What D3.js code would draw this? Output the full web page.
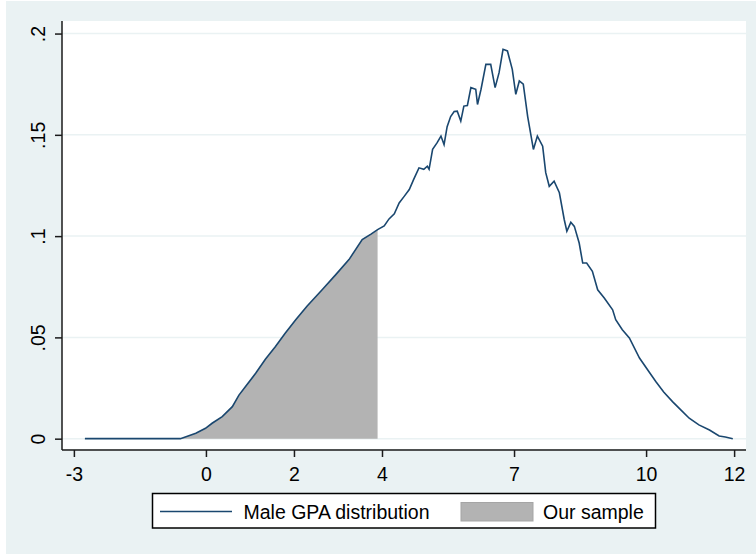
<!DOCTYPE html>
<html>
<head>
<meta charset="utf-8">
<script src="https://cdnjs.cloudflare.com/ajax/libs/d3/7.8.5/d3.min.js"></script>
<style>
    body { margin: 0; background: #fff; }
    text { font-family: "Liberation Sans", Arial, sans-serif; }
</style>
</head>
<body>
<div id="elements"></div>
<script>
// GPA values (x) and kernel density (y)
var gpa = [-2.75, -2.0, -1.0, -0.58, -0.23, -0.01, 0.14, 0.37, 0.60, 0.75,
    0.90, 1.13, 1.35, 1.58, 1.80, 2.04, 2.30, 2.64, 2.95, 3.25,
    3.55, 3.75, 3.90, 4.05, 4.16, 4.28, 4.39, 4.50, 4.62, 4.72,
    4.84, 4.95, 5.03, 5.07, 5.15, 5.25, 5.34, 5.41, 5.48, 5.56,
    5.64, 5.71, 5.79, 5.86, 5.94, 6.02, 6.13, 6.17, 6.25, 6.36,
    6.47, 6.57, 6.66, 6.75, 6.85, 6.96, 7.04, 7.12, 7.21, 7.31,
    7.44, 7.53, 7.65, 7.72, 7.80, 7.91, 8.03, 8.14, 8.20, 8.29,
    8.37, 8.48, 8.56, 8.65, 8.78, 8.90, 9.05, 9.24, 9.31, 9.46,
    9.62, 9.85, 10.05, 10.22, 10.40, 10.60, 10.80, 10.98, 11.20, 11.44,
    11.66, 11.80, 11.97];
var density = [0, 0, 0, 0, 0.0027, 0.0051, 0.0076, 0.0109, 0.0158, 0.0215,
    0.0257, 0.0323, 0.0392, 0.0455, 0.0520, 0.0587, 0.0655, 0.0735, 0.0810, 0.0884,
    0.0983, 0.1010, 0.1032, 0.1050, 0.1085, 0.1110, 0.1164, 0.1195, 0.1230, 0.1280,
    0.1337, 0.1330, 0.1345, 0.1330, 0.1428, 0.1460, 0.1494, 0.1452, 0.1540, 0.1590,
    0.1615, 0.1617, 0.1568, 0.1642, 0.1645, 0.1733, 0.1725, 0.1650, 0.1725, 0.1848,
    0.1848, 0.1733, 0.1807, 0.1922, 0.1914, 0.1823, 0.1700, 0.1766, 0.1750, 0.1590,
    0.1428, 0.1494, 0.1444, 0.1313, 0.1246, 0.1271, 0.1214, 0.1082, 0.1024, 0.1068,
    0.1048, 0.0966, 0.0867, 0.0867, 0.0826, 0.0735, 0.0694, 0.0636, 0.0587, 0.0538,
    0.0497, 0.0398, 0.0335, 0.0282, 0.0230, 0.0183, 0.0140, 0.0101, 0.0068, 0.0043,
    0.0013, 0.0008, 0];
var sampleMax = 3.9;
var xTicks = [-3, 0, 2, 4, 7, 10, 12];
var yTicks = [0, 0.05, 0.1, 0.15, 0.2];
var yTickLabels = ["0", ".05", ".1", ".15", ".2"];
var legendLabels = ["Male GPA distribution", "Our sample"];

var width = 756, height = 555;
var plot = {left: 62, right: 746, top: 21, bottom: 449};

var svg = d3.select("#elements").append("svg")
    .attr("width", width)
    .attr("height", height);

// graph region and plot region
svg.append("rect")
    .attr("x", 6).attr("y", 1)
    .attr("width", width - 6).attr("height", height - 2)
    .attr("fill", "#eaf2f3");
svg.append("rect")
    .attr("x", plot.left).attr("y", plot.top)
    .attr("width", plot.right - plot.left).attr("height", plot.bottom - plot.top)
    .attr("fill", "#fff");

var x = d3.scaleLinear().domain([-3.27, 12.27]).range([plot.left, plot.right]);
var y = d3.scaleLinear().domain([-0.0051, 0.2062]).range([plot.bottom, plot.top]);

var points = gpa.map(function(g, i) { return {x: g, y: density[i]}; });

// grid lines
svg.append("g")
    .selectAll("line")
    .data(yTicks)
    .enter()
    .append("line")
    .attr("x1", plot.left)
    .attr("x2", plot.right)
    .attr("y1", function(d) { return y(d); })
    .attr("y2", function(d) { return y(d); })
    .attr("stroke", "#eaf2f3")
    .attr("stroke-width", 1.5);

// shaded sample region
var area = d3.area()
    .x(function(d) { return x(d.x); })
    .y0(y(0))
    .y1(function(d) { return y(d.y); });
svg.append("path")
    .datum(points.filter(function(d) { return d.x <= sampleMax; }))
    .attr("d", area)
    .attr("fill", "#b3b3b3");

var line = d3.line()
    .x(function(d) { return x(d.x); })
    .y(function(d) { return y(d.y); });
svg.append("path")
    .datum(points)
    .attr("d", line)
    .attr("fill", "none")
    .attr("stroke", "#1a476f")
    .attr("stroke-width", 1.6);

// axes
var xAxis = d3.axisBottom(x)
    .tickValues(xTicks)
    .tickSize(7)
    .tickPadding(10)
    .tickFormat(function(d) { return String(d); });
var gx = svg.append("g")
    .attr("transform", "translate(0," + (plot.bottom + 1) + ")")
    .call(xAxis);

var yAxis = d3.axisLeft(y)
    .tickValues(yTicks)
    .tickSize(7)
    .tickFormat(function(d, i) { return yTickLabels[i]; });
var gy = svg.append("g")
    .attr("transform", "translate(" + plot.left + ",0)")
    .call(yAxis);

gx.select(".domain").attr("d", "M" + plot.left + ",0H" + plot.right);
gy.select(".domain").attr("d", "M0," + plot.top + "V" + (plot.bottom + 1));

svg.selectAll(".domain, .tick line")
    .attr("stroke", "#1a1a1a")
    .attr("stroke-width", 1.5);
svg.selectAll(".tick text")
    .attr("fill", "#000")
    .attr("font-size", 19.5)
    .attr("font-family", "'Liberation Sans', Arial, sans-serif");

gx.selectAll(".tick text").attr("dy", "0.71em");
gy.selectAll(".tick text")
    .attr("x", null).attr("dy", null)
    .attr("text-anchor", "middle")
    .attr("transform", "translate(-17,0) rotate(-90)");

// legend
var legend = svg.append("g");
legend.append("rect")
    .attr("x", 152.5).attr("y", 493.5)
    .attr("width", 503).attr("height", 34.5)
    .attr("fill", "#fff")
    .attr("stroke", "#000")
    .attr("stroke-width", 1.5);
legend.append("line")
    .attr("x1", 160).attr("x2", 232)
    .attr("y1", 511.5).attr("y2", 511.5)
    .attr("stroke", "#1a476f")
    .attr("stroke-width", 1.6);
legend.append("text")
    .attr("x", 243.5).attr("y", 518.5)
    .attr("font-size", 19.5)
    .text(legendLabels[0]);
legend.append("rect")
    .attr("x", 461).attr("y", 502.5)
    .attr("width", 72).attr("height", 18.5)
    .attr("fill", "#b3b3b3")
    .attr("stroke", "#a5a5a5")
    .attr("stroke-width", 1);
legend.append("text")
    .attr("x", 543).attr("y", 518.5)
    .attr("font-size", 19.5)
    .text(legendLabels[1]);
</script>
</body>
</html>
